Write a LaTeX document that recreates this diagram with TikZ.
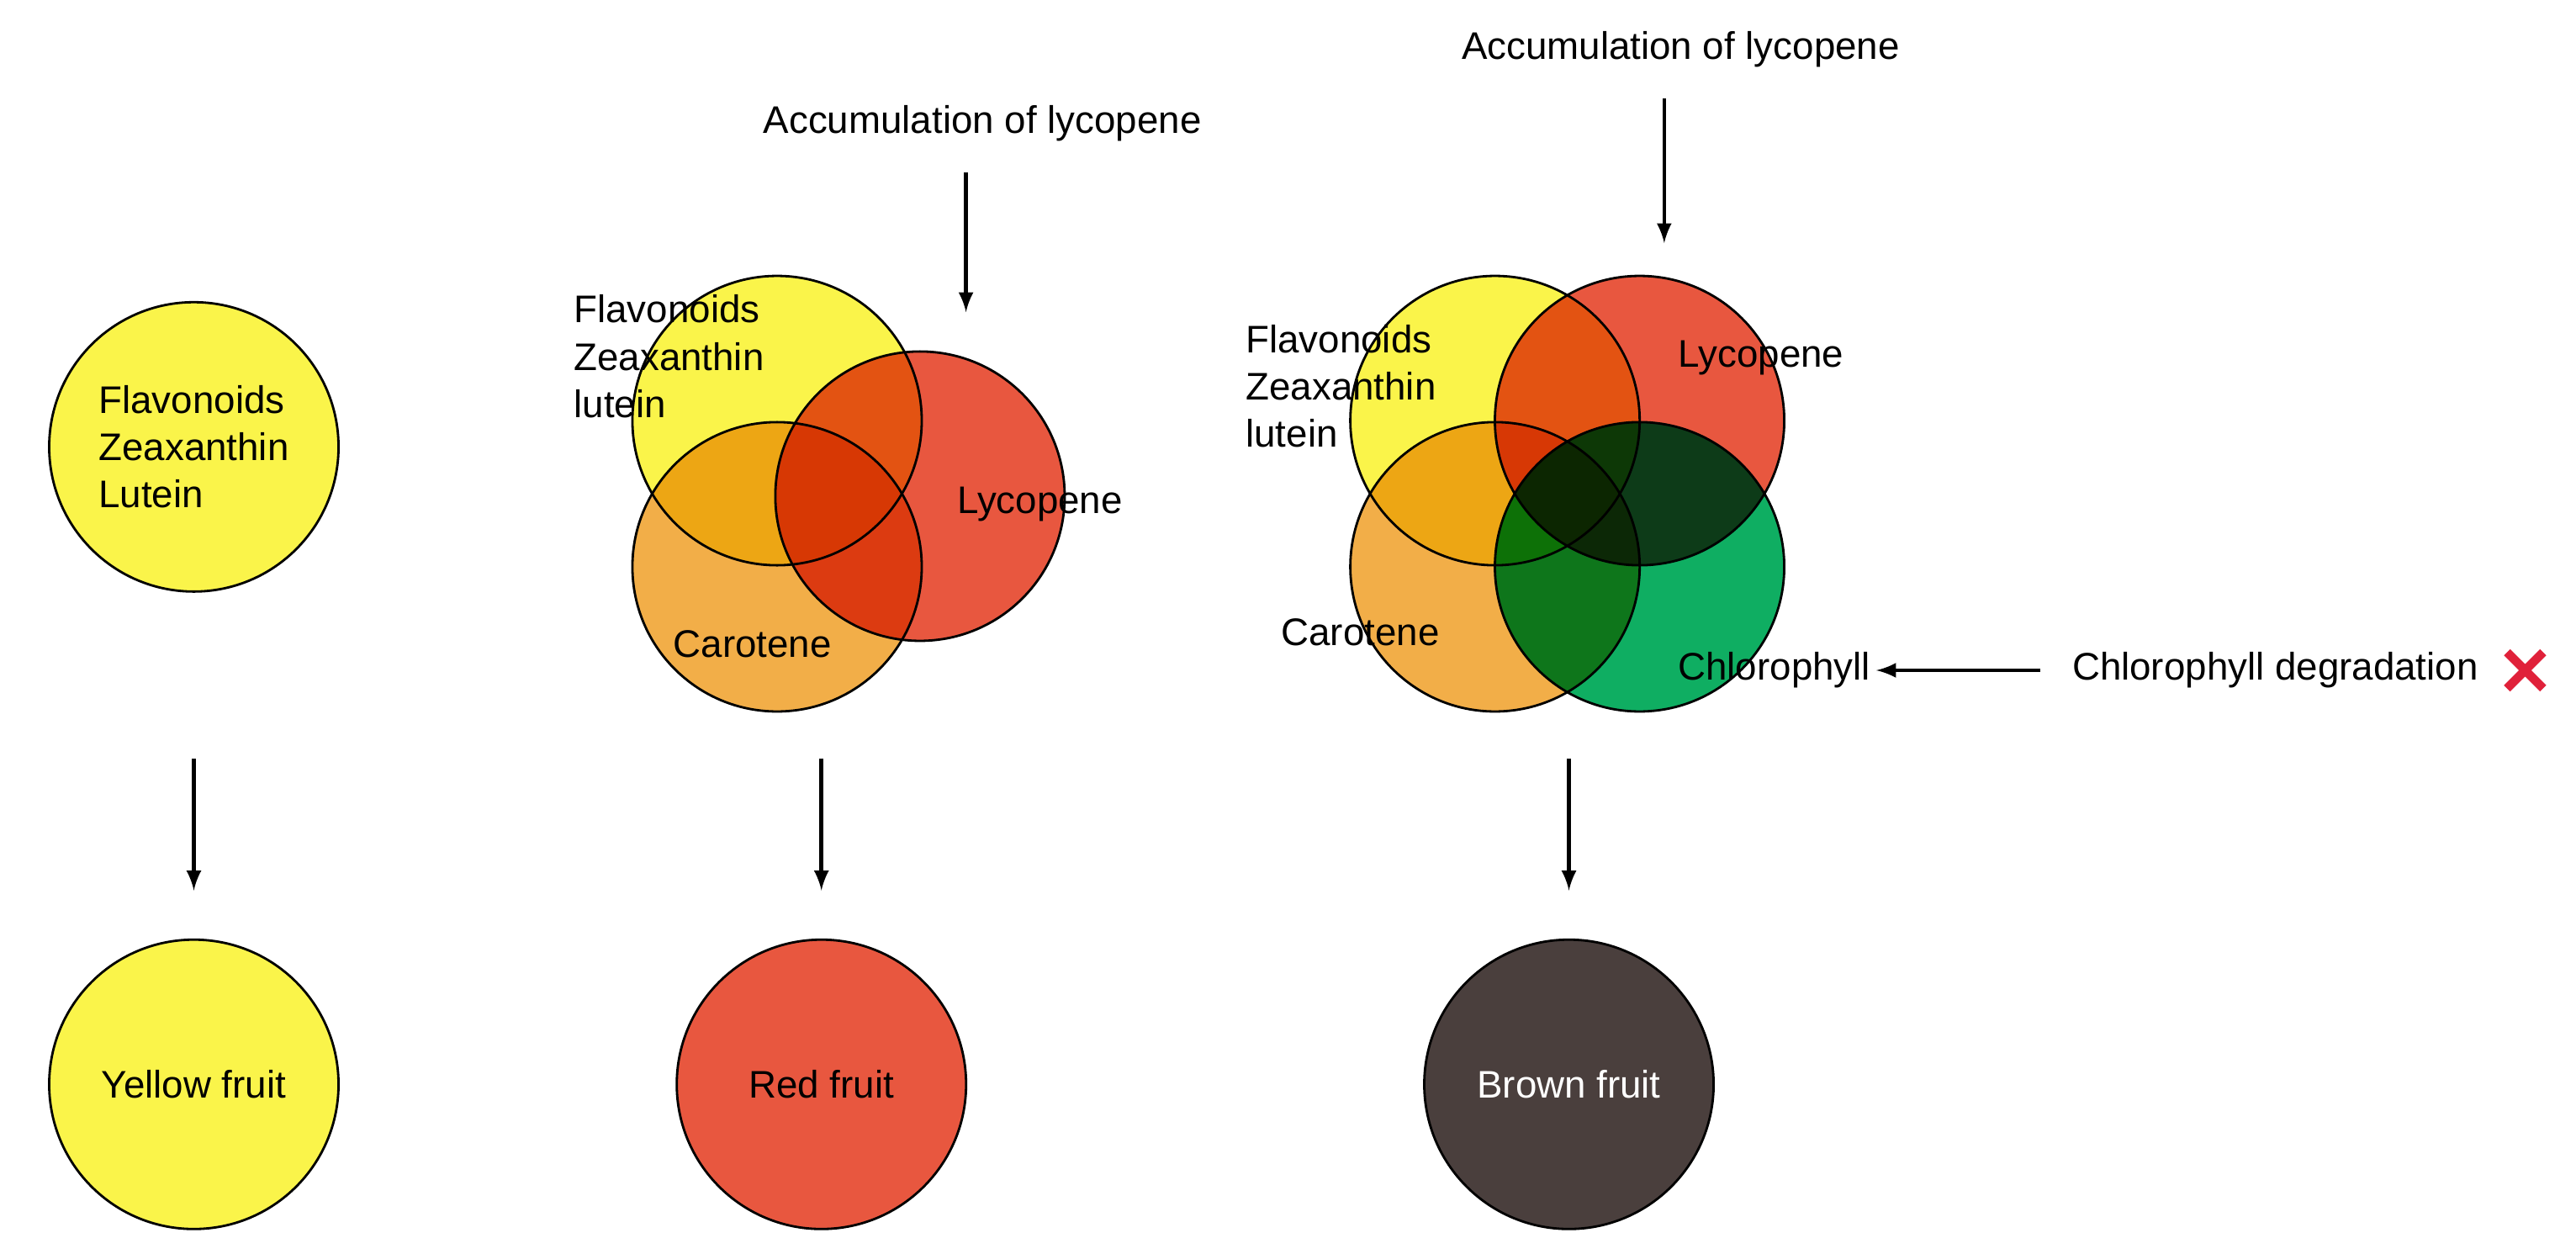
\documentclass[tikz,border=0pt]{standalone}
\usepackage{fontspec}
\setmainfont{Liberation Sans}
\usetikzlibrary{calc}
\definecolor{fyellow}{HTML}{FAF44A}
\definecolor{fred}{HTML}{E8573F}
\definecolor{forange}{HTML}{F2AE48}
\definecolor{fgreen}{HTML}{0FAE62}
\definecolor{fbrown}{HTML}{4A3F3D}
\definecolor{xred}{HTML}{E0213A}
\newcommand\pig{3.44cm}

\begin{document}
\begin{tikzpicture}[x=0.01953cm,y=-0.01953cm,
      pigment/.style={circle,minimum size=\pig,inner sep=0pt},
      ring/.style={circle,draw=black,line width=0.8pt,minimum size=\pig,inner sep=0pt},
      label/.style={font=\fontsize{13}{16}\selectfont,align=left},
      flow/.style={>=latex,->,line width=1.3pt}
    ]
    \useasboundingbox (0,0) rectangle (1568,763);

    % left column
    \node[ring,fill=fyellow] (ly) at (118,272) {};
    \node[label] at (ly) {Flavonoids\\Zeaxanthin\\Lutein};
    \node[ring,fill=fyellow,label] (lf) at (118,660) {Yellow fruit};
    \coordinate (la) at (118,462);
    \coordinate (lb) at (118,542);
    \draw[flow] (la) -- (lb);

    % middle column
    \begin{scope}[blend mode=multiply]
      \node[pigment,fill=fyellow] (my) at (473,256) {};
      \node[pigment,fill=forange] (mo) at (473,345) {};
      \node[pigment,fill=fred] (mr) at (560,302) {};
    \end{scope}
    \foreach \c in {my,mo,mr}{
      \node[ring] at (\c) {};
    }
    \node[label,anchor=west] at (343,217) {Flavonoids\\Zeaxanthin\\lutein};
    \node[label] at (633,307) {Lycopene};
    \node[label] at (458,392) {Carotene};
    \node[label] (macc) at (598,75) {Accumulation of lycopene};
    \coordinate (ma) at (588,105);
    \coordinate (mb) at (588,190);
    \draw[flow] (ma) -- (mb);
    \coordinate (mc) at (500,462);
    \coordinate (md) at (500,542);
    \draw[flow] (mc) -- (md);
    \node[ring,fill=fred,label] (mf) at (500,660) {Red fruit};

    % right column
    \begin{scope}[blend mode=multiply]
      \node[pigment,fill=fyellow] (ry) at (910,256) {};
      \node[pigment,fill=fred] (rr) at (998,256) {};
      \node[pigment,fill=forange] (ro) at (910,345) {};
      \node[pigment,fill=fgreen] (rg) at (998,345) {};
    \end{scope}
    \foreach \c in {ry,rr,ro,rg}{
      \node[ring] at (\c) {};
    }
    \node[label,anchor=west] at (752,235) {Flavonoids\\Zeaxanthin\\lutein};
    \node[label] at (1072,218) {Lycopene};
    \node[label] at (828,385) {Carotene};
    \node[label] (chl) at (1080,408) {Chlorophyll};
    \node[label] (racc) at (1023,30) {Accumulation of lycopene};
    \coordinate (ra) at (1013,60);
    \coordinate (rb) at (1013,148);
    \draw[flow] (ra) -- (rb);
    \node[label,anchor=west] (deg) at (1255,408) {Chlorophyll degradation};
    \coordinate (rc) at (1242,408);
    \coordinate (rd) at (1142,408);
    \draw[flow] (rc) -- (rd);
    \draw[xred,line width=3pt] (1526,397) -- (1548,419) (1526,419) -- (1548,397);
    \coordinate (re) at (955,462);
    \coordinate (rf) at (955,542);
    \draw[flow] (re) -- (rf);
    \node[ring,fill=fbrown,label,text=white] (rfr) at (955,660) {Brown fruit};
\end{tikzpicture}
\end{document}
